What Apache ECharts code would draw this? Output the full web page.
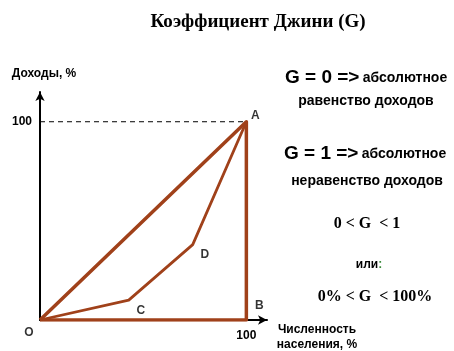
<!DOCTYPE html>
<html>
<head>
<meta charset="utf-8">
<script src="https://cdn.jsdelivr.net/npm/echarts@6/dist/echarts.min.js"></script>
<style>
  html, body { margin: 0; padding: 0; background: #fff; }
  #chart { width: 454px; height: 351px; }
</style>
</head>
<body>
<div id="chart"></div>
<script>
// данные графика
const titleText = "Коэффициент Джини (G)";
const yAxisName = "Доходы, %";
const xAxisName = "Численность\nнаселения, %";
const tickValues = [100];
const trianglePoints = [[0, 0], [100, 100], [100, 0], [0, 0]]; // O -> A -> B -> O
const lorenzPoints = [[0, 0], [43, 10], [74, 38], [100, 100]]; // O -> C -> D -> A
const dashedPoints = [[0, 100], [100, 100]];
const pointNames = ["O", "A", "B", "C", "D"];
const pointValues = [[0, 0], [100, 100], [100, 0], [43, 10], [74, 38]];

const BROWN = "#a0411a";
const FONT = "Liberation Sans, Arial, sans-serif";
const SERIF = "Liberation Serif, Times New Roman, serif";

// смещения подписей точек (px)
const labelOffsets = { O: [-11, 13], A: [9, -6], B: [13, -14], C: [12, 11], D: [12, 10] };

const chart = echarts.init(document.getElementById("chart"), null, { renderer: "canvas" });

const option = {
  animation: false,
  backgroundColor: "#fff",
  grid: { left: 40, top: 92, right: 187, bottom: 31 },
  xAxis: {
    type: "value",
    min: 0,
    max: 110,
    interval: 100,
    axisLine: {
      show: true,
      symbol: ["none", "arrow"],
      symbolSize: [7, 9],
      lineStyle: { color: "#000", width: 2 }
    },
    axisTick: { show: false },
    splitLine: { show: false },
    axisLabel: {
      margin: 10,
      color: "#000",
      fontFamily: FONT,
      fontWeight: "bold",
      fontSize: 12,
      formatter: v => (tickValues.includes(v) ? String(v) : "")
    }
  },
  yAxis: {
    type: "value",
    min: 0,
    max: 115,
    interval: 100,
    name: yAxisName,
    nameLocation: "end",
    nameGap: 12,
    nameTextStyle: { color: "#000", fontFamily: FONT, fontWeight: "bold", fontSize: 12, align: "center", padding: [0, 0, 0, 8] },
    axisLine: {
      show: true,
      symbol: ["none", "arrow"],
      symbolSize: [7, 9],
      lineStyle: { color: "#000", width: 2 }
    },
    axisTick: { show: false },
    splitLine: { show: false },
    axisLabel: {
      margin: 8,
      color: "#000",
      fontFamily: FONT,
      fontWeight: "bold",
      fontSize: 12,
      formatter: v => (tickValues.includes(v) ? String(v) : "")
    }
  },
  series: [
    {
      type: "line",
      data: dashedPoints,
      symbol: "none",
      lineStyle: { color: "#000", width: 1, type: [5, 4] },
      z: 1
    },
    {
      type: "line",
      data: trianglePoints,
      symbol: "none",
      lineStyle: { color: BROWN, width: 3.5, join: "round" },
      z: 3
    },
    {
      type: "line",
      data: lorenzPoints,
      symbol: "none",
      lineStyle: { color: BROWN, width: 2.8, join: "round" },
      z: 3
    },
    {
      type: "scatter",
      symbolSize: 0,
      data: pointNames.map((n, i) => ({
        name: n,
        value: pointValues[i],
        label: { offset: labelOffsets[n] }
      })),
      label: {
        show: true,
        position: "inside",
        formatter: p => p.name,
        color: "#000",
        fontFamily: FONT,
        fontWeight: "bold",
        fontSize: 12
      },
      z: 4
    }
  ],
  graphic: [
    {
      type: "text", position: [258, 22],
      style: { text: titleText, align: "center", verticalAlign: "middle", fill: "#000", font: "bold 19px " + SERIF }
    },
    {
      type: "text", position: [285, 78],
      style: {
        text: "{b|G = 0 =>} {s|абсолютное}",
        verticalAlign: "middle",
        rich: {
          b: { font: "bold 19px " + FONT, fill: "#000" },
          s: { font: "bold 14px " + FONT, fill: "#000" }
        }
      }
    },
    {
      type: "text", position: [366, 101],
      style: { text: "равенство доходов", align: "center", verticalAlign: "middle", font: "bold 14px " + FONT, fill: "#000" }
    },
    {
      type: "text", position: [284, 154],
      style: {
        text: "{b|G = 1 =>} {s|абсолютное}",
        verticalAlign: "middle",
        rich: {
          b: { font: "bold 19px " + FONT, fill: "#000" },
          s: { font: "bold 14px " + FONT, fill: "#000" }
        }
      }
    },
    {
      type: "text", position: [367, 181],
      style: { text: "неравенство доходов", align: "center", verticalAlign: "middle", font: "bold 14px " + FONT, fill: "#000" }
    },
    {
      type: "text", position: [367, 224],
      style: { text: "0 < G  < 1", align: "center", verticalAlign: "middle", font: "bold 16px " + SERIF, fill: "#000" }
    },
    {
      type: "text", position: [369, 265],
      style: {
        text: "{a|или}{c|:}",
        align: "center",
        verticalAlign: "middle",
        rich: {
          a: { font: "bold 12px " + FONT, fill: "#000" },
          c: { font: "bold 12px " + FONT, fill: "#3a8a3a" }
        }
      }
    },
    {
      type: "text", position: [375, 297],
      style: { text: "0% < G  < 100%", align: "center", verticalAlign: "middle", font: "bold 16px " + SERIF, fill: "#000" }
    },
    {
      type: "text", position: [317, 337],
      style: { text: xAxisName, align: "center", verticalAlign: "middle", lineHeight: 15, font: "bold 12px " + FONT, fill: "#000" }
    }
  ]
};

chart.setOption(option);
</script>
</body>
</html>
